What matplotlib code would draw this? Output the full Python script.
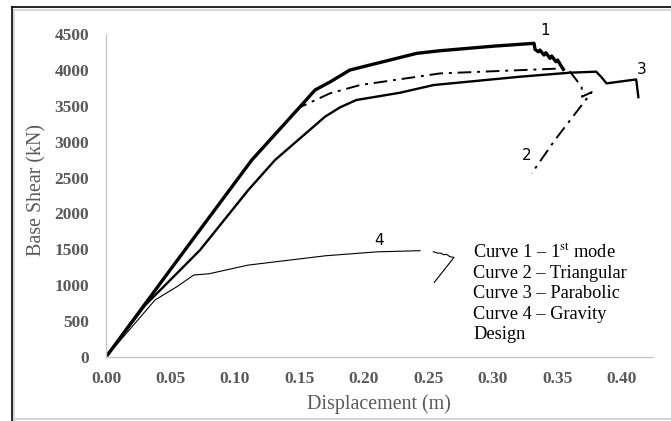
import numpy as np
import matplotlib
matplotlib.use("Agg")
import matplotlib.pyplot as plt
from matplotlib.lines import Line2D

plt.rcParams["mathtext.fontset"] = "stix"

# Pushover curves: displacement (m) vs base shear (kN)
curve1_x = [0.0, 0.05, 0.113, 0.150, 0.162, 0.174, 0.189, 0.241, 0.259, 0.300, 0.3318,
            0.3326, 0.3351, 0.3364, 0.3395, 0.3410, 0.3442, 0.3455, 0.3488, 0.3501, 0.3532, 0.3545]
curve1_y = [0, 1220, 2744, 3478, 3719, 3835, 3998, 4231, 4267, 4330, 4370,
            4285, 4253, 4276, 4207, 4239, 4160, 4193, 4114, 4137, 4044, 4007]

curve2_x = [0.0, 0.05, 0.113, 0.150, 0.154, 0.1736, 0.197, 0.259, 0.3545, 0.3597,
            0.3687, 0.3690, 0.3765, 0.348, 0.330]
curve2_y = [0, 1220, 2744, 3478, 3510, 3673, 3789, 3951, 4021, 3975,
            3765, 3626, 3690, 3023, 2558]

curve3_x = [0.0, 0.03, 0.0729, 0.1103, 0.131, 0.1698, 0.1814, 0.194, 0.228, 0.254,
            0.321, 0.3597, 0.380, 0.384, 0.388, 0.411, 0.4127]
curve3_y = [0, 715, 1490, 2326, 2744, 3348, 3478, 3580, 3682, 3789,
            3905, 3961, 3975, 3900, 3812, 3867, 3620]

curve4_x = [0.0, 0.038, 0.055, 0.068, 0.080, 0.110, 0.170, 0.210, 0.2434, np.nan,
            0.2537, 0.2575, 0.2590, 0.2620, 0.2640, 0.2667, 0.2698, 0.2545]
curve4_y = [0, 794, 980, 1142, 1160, 1280, 1410, 1465, 1481, np.nan,
            1467, 1445, 1450, 1425, 1430, 1397, 1388, 1040]

curve_labels = ["1", "2", "3", "4"]
label_pos = [(0.3403, 4545), (0.3261, 2814), (0.4155, 4010), (0.2119, 1620)]

legend_lines = ["Curve 1 \u2013 1$^{\\mathrm{st}}$ mode", "Curve 2 \u2013 Triangular",
                "Curve 3 \u2013 Parabolic", "Curve 4 \u2013 Gravity", "Design"]

x_ticks = [0.00, 0.05, 0.10, 0.15, 0.20, 0.25, 0.30, 0.35, 0.40]
y_ticks = list(range(0, 4501, 500))

serif = ["Liberation Serif", "DejaVu Serif"]
grey = "#595959"

fig = plt.figure(figsize=(6.71, 4.21), dpi=100)
ax = fig.add_axes([106 / 671, 1 - 357 / 421, (652.7 - 106) / 671, (357 - 34) / 421])

ax.plot(curve1_x, curve1_y, color="black", lw=2.4, solid_joinstyle="round")
ax.plot(curve2_x, curve2_y, color="black", lw=1.4, dashes=(7, 3, 1.5, 3))
ax.plot(curve3_x, curve3_y, color="black", lw=1.7)
ax.plot(curve4_x, curve4_y, color="black", lw=0.8)

for lab, (lx, ly) in zip(curve_labels, label_pos):
    ax.text(lx, ly, lab, fontsize=11, family="DejaVu Sans", ha="center", va="center",
            clip_on=False)

for i, t in enumerate(legend_lines):
    ax.text(473 / 671, 1 - (253.3 + 20.3 * i) / 421, t, transform=fig.transFigure,
            fontsize=13.2, family=serif, ha="left", va="center", color="black")

ax.set_xlim(0, 0.4238)
ax.set_ylim(0, 4500)
ax.set_xticks(x_ticks)
ax.set_xticklabels([f"{v:.2f}" for v in x_ticks])
ax.set_yticks(y_ticks)
ax.tick_params(length=0, labelsize=12.5, labelcolor=grey)
ax.tick_params(axis="y", pad=12)
ax.tick_params(axis="x", pad=10)
for lab in ax.get_xticklabels() + ax.get_yticklabels():
    lab.set_family(serif)
    lab.set_fontweight("bold")

for s in ["top", "right"]:
    ax.spines[s].set_visible(False)
for s in ["left", "bottom"]:
    ax.spines[s].set_color("#c8c8c8")
    ax.spines[s].set_linewidth(1.0)

fig.text(379 / 671, 1 - 404 / 421, "Displacement (m)", fontsize=14.4, family=serif,
         color=grey, ha="center", va="center")
fig.text(37 / 671, 1 - 190 / 421, "Base Shear (kN)", fontsize=14.4, family=serif,
         color=grey, ha="center", va="center", rotation=90)

# Frame around the chart area
fig.add_artist(Line2D([11.5 / 671, 1], [1 - 7 / 421, 1 - 7 / 421], color="black", lw=1.2,
                      transform=fig.transFigure))
fig.add_artist(Line2D([11.5 / 671, 11.5 / 671], [0, 1 - 7 / 421], color="black", lw=1.2,
                      transform=fig.transFigure))
fig.add_artist(Line2D([14 / 671, 1], [1 - 10 / 421, 1 - 10 / 421], color="#d0d0d0", lw=1.2,
                      transform=fig.transFigure))
fig.add_artist(Line2D([14 / 671, 14 / 671], [0, 1 - 10 / 421], color="#d0d0d0", lw=1.2,
                      transform=fig.transFigure))
fig.add_artist(Line2D([14 / 671, 1], [1 - 419 / 421, 1 - 419 / 421], color="#d0d0d0", lw=1.2,
                      transform=fig.transFigure))

fig.savefig("out.png", dpi=100)
